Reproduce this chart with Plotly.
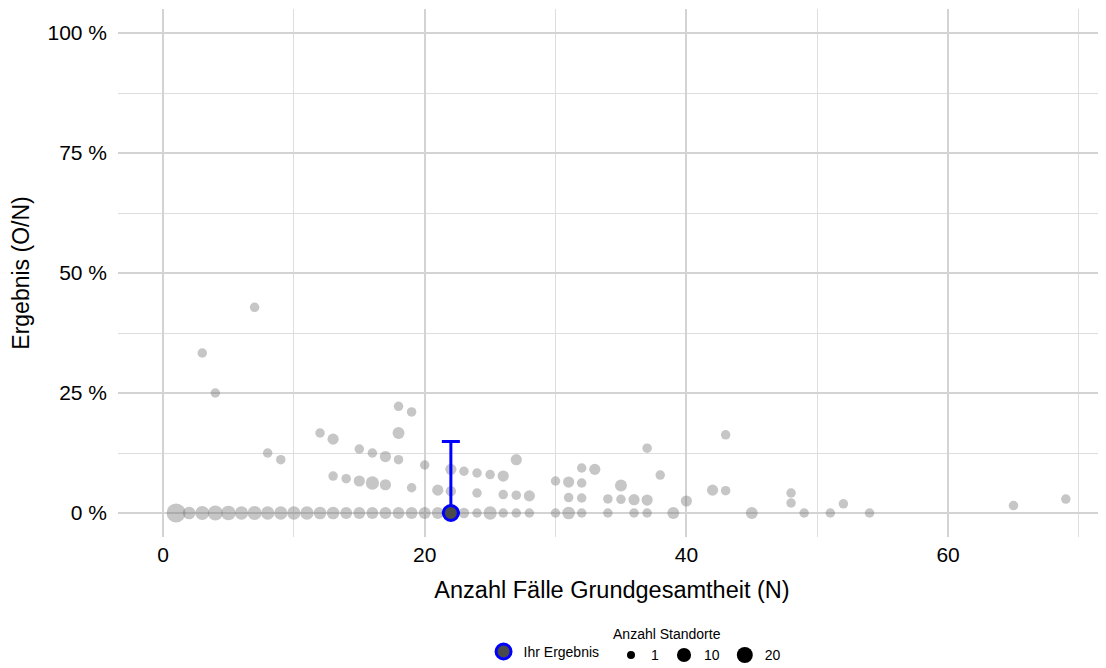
import numpy as np
import plotly.graph_objects as go

# ---- data: N (cases), O (events), number of sites ----
n_cases = [1, 2, 3, 4, 5, 6, 7, 8, 9, 10, 11, 12, 13, 14, 15, 16, 17, 18, 19, 20, 21, 22,
           23, 24, 25, 26, 27, 28, 30, 31, 32, 34, 36, 37, 39, 45, 49, 51, 54,
           3, 4, 8, 9, 13, 14, 15, 16, 17, 19, 21, 22, 24, 26, 27, 28, 31, 32, 34, 35, 36, 37, 40, 48, 52, 65,
           12, 13, 15, 16, 17, 18, 20, 22, 23, 24, 25, 26, 30, 31, 32, 35, 42, 43, 48, 69,
           7, 18, 27, 32, 33, 38,
           18, 19,
           37,
           43]
o_events = [0] * 39 + [1] * 26 + [2] * 20 + [3] * 6 + [4] * 2 + [5] + [7]
n_sites = [17, 5, 7, 9, 8, 6, 7, 6, 6, 6, 6, 5, 5, 4, 4, 4, 4, 4, 4, 4, 4, 3,
           2, 1, 6, 1, 1, 1, 1, 5, 1, 1, 1, 1, 4, 4, 1, 1, 1,
           1, 1, 1, 1, 1, 1, 3, 6, 3, 1, 3, 2, 1, 1, 1, 3, 1, 1, 1, 1, 3, 3, 3, 1, 1, 1,
           1, 3, 1, 1, 3, 1, 1, 3, 1, 1, 1, 3, 1, 3, 1, 4, 3, 1, 1, 1,
           1, 4, 3, 1, 3, 1,
           1, 1,
           1,
           1]

own_n = [22]
own_result = [0.0]
own_upper = [14.87]

size_legend_values = [1, 10, 20]

x_ticks = [0, 20, 40, 60]
y_ticks = [0, 25, 50, 75, 100]
y_ticktext = ["0 %", "25 %", "50 %", "75 %", "100 %"]

FONT = "Liberation Sans, Arial, Helvetica, sans-serif"


def size_px(n):
    return 1.5 + np.sqrt(49 + 15 * np.asarray(n, dtype=float))


ratio_pct = [100.0 * o / n for o, n in zip(o_events, n_cases)]

fig = go.Figure()

fig.add_trace(go.Scatter(
    x=n_cases, y=ratio_pct, mode="markers",
    marker=dict(size=size_px(n_sites), color="rgba(118,118,118,0.6)", line=dict(width=0)),
    showlegend=False, hoverinfo="x+y",
))

fig.add_trace(go.Scatter(
    x=own_n, y=own_result, mode="markers", name="Ihr Ergebnis",
    marker=dict(size=15, color="#4a4a4a", line=dict(color="#0000ff", width=3)),
    error_y=dict(type="data", symmetric=False, array=[u - r for u, r in zip(own_upper, own_result)],
                 arrayminus=[0], color="#0000ff", thickness=3, width=9),
    legend="legend",
))

for v in size_legend_values:
    fig.add_trace(go.Scatter(
        x=[None], y=[None], mode="markers", name=str(v),
        marker=dict(size=float(size_px(v)) - 1.5, color="black", line=dict(width=0)),
        legend="legend2", showlegend=True,
    ))

# page body has an 8px margin: figure is sized/offset so the panel lands where the reference has it
fig.update_layout(
    width=1098, height=660,
    paper_bgcolor="white", plot_bgcolor="white",
    margin=dict(l=110, r=0, t=1, b=131, autoexpand=False),
    font=dict(family=FONT, color="black"),
    showlegend=True,
    legend=dict(orientation="h", x=0.370, xanchor="left", y=-0.2176, yanchor="middle",
                font=dict(size=14, family=FONT), itemsizing="trace", bgcolor="rgba(0,0,0,0)"),
    legend2=dict(orientation="h", x=0.499, xanchor="left", y=-0.1595, yanchor="top",
                 font=dict(size=14, family=FONT), itemsizing="trace", bgcolor="rgba(0,0,0,0)",
                 title=dict(text="Anzahl Standorte", side="top", font=dict(size=14, family=FONT))),
)

fig.update_xaxes(
    range=[-3.44, 72.07], tickvals=x_ticks, showline=False, zeroline=False, automargin=False,
    showgrid=True, gridcolor="#d3d3d3", gridwidth=1.8,
    minor=dict(dtick=10, tick0=0, showgrid=True, gridcolor="#dedede", gridwidth=1),
    tickfont=dict(size=21, family=FONT, color="black"), ticks="", ticklabelstandoff=3,
    title=dict(text="Anzahl Fälle Grundgesamtheit (N)", font=dict(size=23.5, family=FONT), standoff=16),
)
fig.update_yaxes(
    range=[-5, 105], tickvals=y_ticks, ticktext=y_ticktext, showline=False, zeroline=False,
    automargin=False,
    showgrid=True, gridcolor="#d3d3d3", gridwidth=1.8,
    minor=dict(dtick=12.5, tick0=0, showgrid=True, gridcolor="#dedede", gridwidth=1),
    tickfont=dict(size=21, family=FONT, color="black"), ticks="", ticklabelstandoff=10,
    title=dict(text="Ergebnis (O/N)", font=dict(size=23, family=FONT), standoff=14),
)

fig.write_html("out.html")
